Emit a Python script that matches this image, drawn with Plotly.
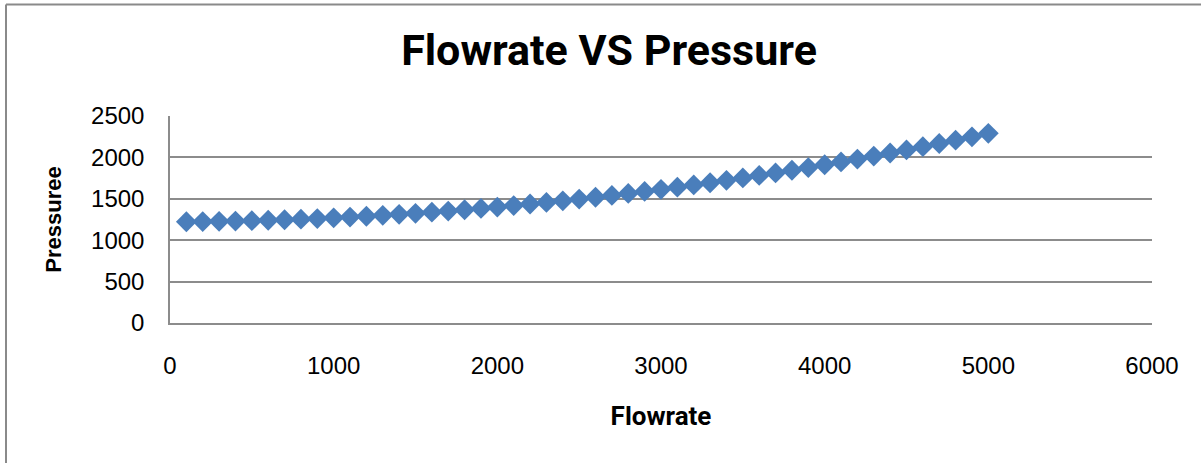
import plotly.graph_objects as go

flowrate = [100, 200, 300, 400, 500, 600, 700, 800, 900, 1000,
            1100, 1200, 1300, 1400, 1500, 1600, 1700, 1800, 1900, 2000,
            2100, 2200, 2300, 2400, 2500, 2600, 2700, 2800, 2900, 3000,
            3100, 3200, 3300, 3400, 3500, 3600, 3700, 3800, 3900, 4000,
            4100, 4200, 4300, 4400, 4500, 4600, 4700, 4800, 4900, 5000]
pressure = [1223, 1225, 1228, 1231, 1236, 1241, 1247, 1254, 1261, 1270,
            1279, 1289, 1300, 1312, 1325, 1338, 1352, 1368, 1384, 1400,
            1418, 1437, 1456, 1476, 1497, 1519, 1541, 1565, 1589, 1614,
            1640, 1667, 1694, 1723, 1752, 1782, 1813, 1845, 1877, 1911,
            1945, 1980, 2016, 2053, 2090, 2129, 2168, 2208, 2249, 2291]

title_text = "Flowrate VS Pressure"
x_title = "Flowrate"
y_title = "Pressuree"
x_ticks = [0, 1000, 2000, 3000, 4000, 5000, 6000]
y_ticks = [0, 500, 1000, 1500, 2000, 2500]

W, H = 1201, 463
ML, MR, MT, MB = 170, 49, 116, 140
PW, PH = W - ML - MR, H - MT - MB

def px_x(px):
    return (px - ML) / PW

def px_y(py):
    return (H - MB - py) / PH

NARROW = "Roboto, sans-serif"

fig = go.Figure()
fig.add_trace(go.Scatter(
    x=flowrate, y=pressure, mode="markers",
    marker=dict(symbol="diamond", size=16, color="#4a7ebb",
                line=dict(width=0)),
    showlegend=False, cliponaxis=False,
))

grid_col = "#8c8c8c"
fig.update_layout(
    width=W, height=H,
    margin=dict(l=ML, r=MR, t=MT, b=MB),
    paper_bgcolor="white", plot_bgcolor="white",
    title=dict(text=title_text, x=609 / W, xanchor="center",
               y=1 - 50 / H, yanchor="middle",
               font=dict(family=NARROW, size=43, color="black", weight="bold")),
    xaxis=dict(range=[0, 6000], tickvals=x_ticks, ticktext=[str(v) for v in x_ticks],
               showgrid=False, zeroline=False, showline=True,
               linecolor=grid_col, linewidth=1.5, ticks="",
               ticklabelstandoff=20,
               tickfont=dict(family="Liberation Sans, Arial, sans-serif", size=24, color="black"),
               title=dict(text=x_title, standoff=29,
                          font=dict(family=NARROW, size=26, color="black", weight="bold"))),
    yaxis=dict(range=[0, 2500], tickvals=y_ticks, ticktext=[str(v) for v in y_ticks],
               showgrid=True, gridcolor=grid_col, gridwidth=1.5,
               zeroline=False, showline=True, linecolor=grid_col, linewidth=1.5,
               ticks="", ticklabelstandoff=19,
               tickfont=dict(family="Liberation Sans, Arial, sans-serif", size=24, color="black"),
               title=dict(text=y_title, standoff=23,
                          font=dict(family="Liberation Sans, Arial, sans-serif",
                                    size=22, color="black", weight="bold"))),
    shapes=[
        dict(type="line", xref="paper", yref="paper",
             x0=px_x(6), x1=px_x(1210), y0=px_y(4.5), y1=px_y(4.5),
             line=dict(color="#8a8a8a", width=2)),
        dict(type="line", xref="paper", yref="paper",
             x0=px_x(6), x1=px_x(6), y0=px_y(4.5), y1=px_y(470),
             line=dict(color="#8a8a8a", width=2)),
    ],
)

fig.write_html("out.html")
